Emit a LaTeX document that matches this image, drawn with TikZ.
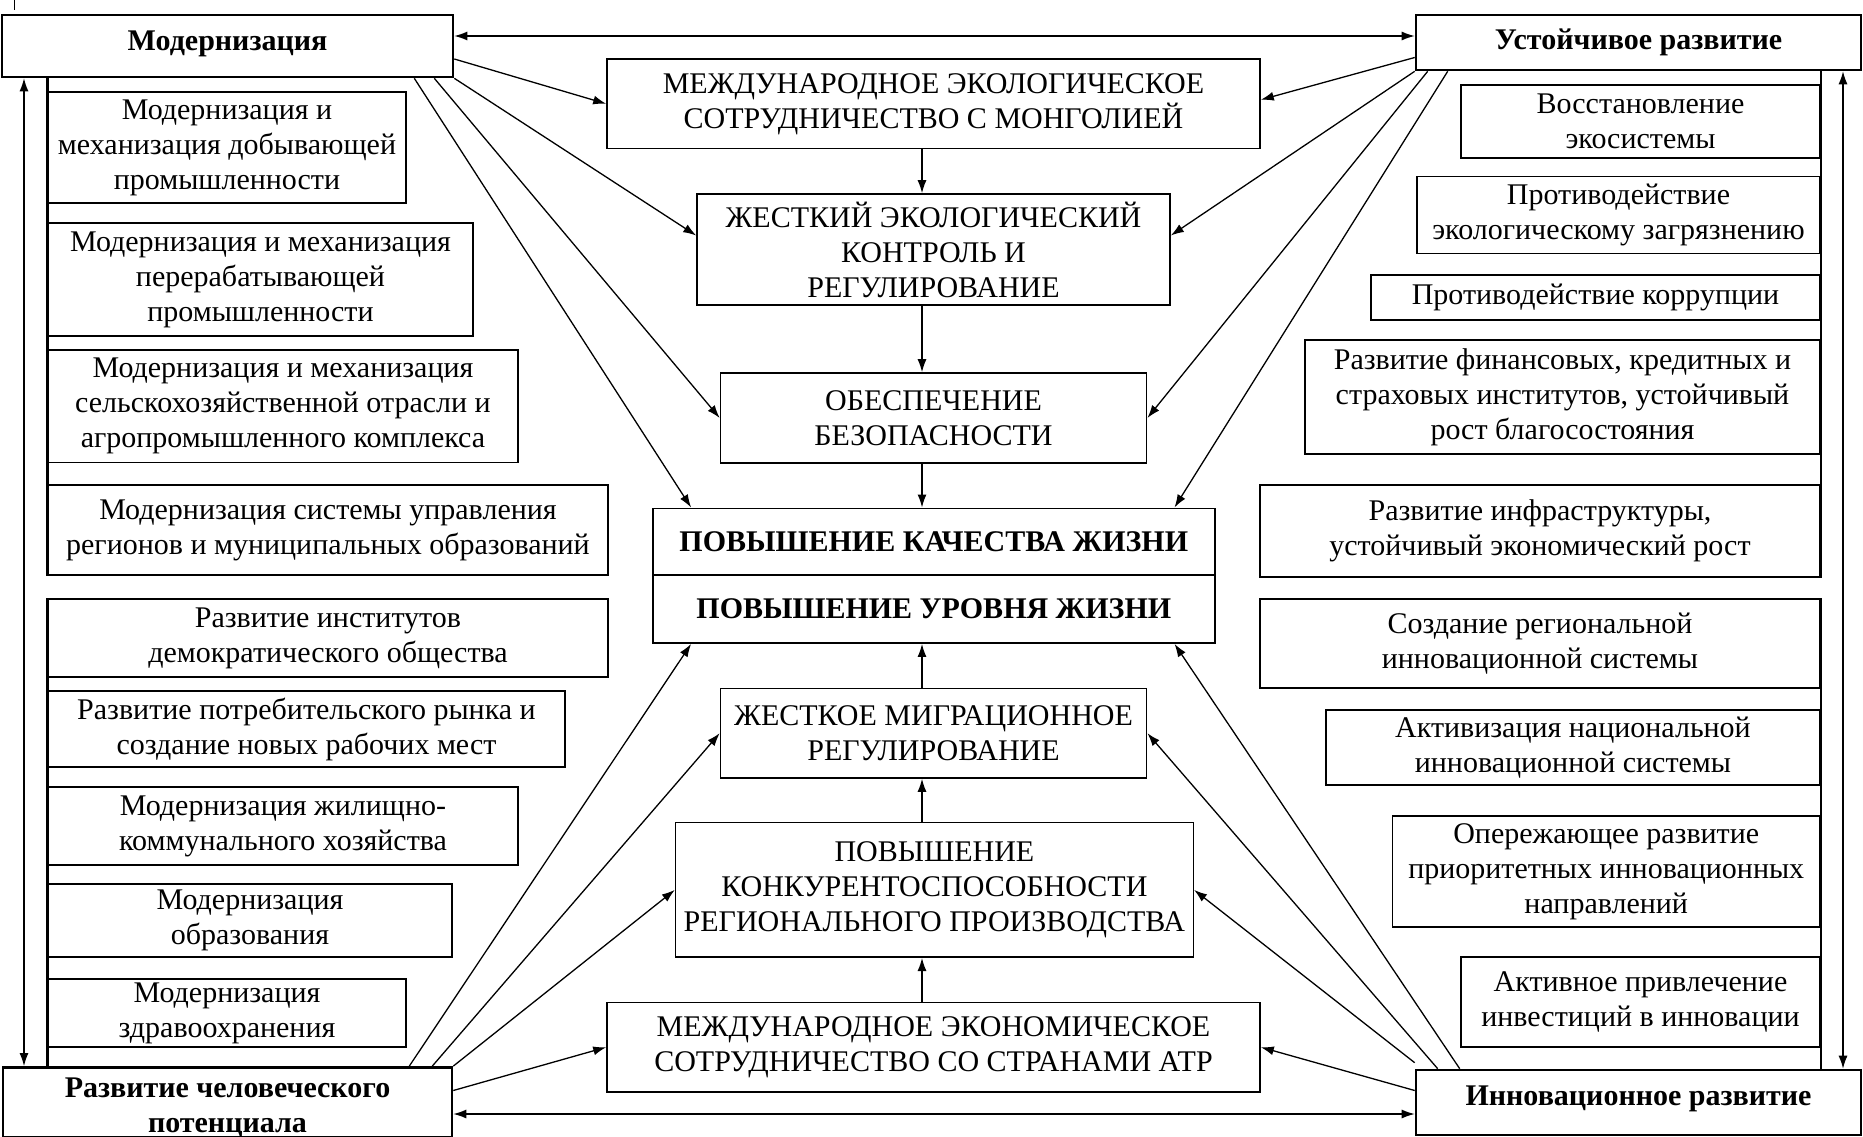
\documentclass[tikz,border=0pt]{standalone}
\usepackage{fontspec}
\setmainfont{Liberation Serif}
\usetikzlibrary{arrows.meta,calc}
\newcommand\fs{\fontsize{30}{35}\selectfont}
\tikzset{
  box/.style={draw, line width=1.6pt, inner sep=0pt, align=center, font=\fs},
  hbox/.style={draw, line width=2.6pt, inner sep=0pt, align=center, font=\fs\bfseries},
  bbox/.style={draw, line width=1.8pt, inner sep=0pt, align=center, font=\fs\bfseries},
  arr/.style={line width=1.3pt, -{Latex[length=13pt,width=9pt]}},
  dbl/.style={line width=1.3pt, {Latex[length=13pt,width=9pt]}-{Latex[length=13pt,width=9pt]}},
  bar/.style={line width=2.6pt}
}
\newcommand\bx[7][box]{\node[#1, minimum width={(#5-#3)*1pt}, minimum height={(#6-#4)*1pt}] (#2) at ({(#3+#5)/2},{(#4+#6)/2}) {#7};}
\begin{document}
\begin{tikzpicture}[x=1pt,y=-1pt]
\fill[white] (0,0) rectangle (1863,1137);
\useasboundingbox (0,0) rectangle (1863,1137);
\coordinate (tk1) at (14,0);
\coordinate (tk2) at (14,10);
\draw[line width=1pt] (tk1) -- (tk2);
% corner boxes
\bx[hbox]{mod}{2}{15}{453}{77}{\raisebox{10pt}{Модернизация}}
\bx[hbox]{ust}{1416}{15}{1861}{70}{\raisebox{5pt}{Устойчивое развитие}}
\bx[hbox]{hum}{3}{1070}{452}{1135}{\rule{0pt}{30pt}Развитие человеческого\\потенциала}
\bx[hbox]{inn}{1416}{1070}{1861}{1135}{\raisebox{13pt}{Инновационное развитие}}
% left boxes
\bx{L1}{48}{92}{406}{203}{Модернизация и\\механизация добывающей\\промышленности}
\bx{L2}{48}{223}{473}{336}{Модернизация и механизация\\перерабатывающей\\промышленности}
\bx{L3}{48}{350}{518}{462.5}{Модернизация и механизация\\сельскохозяйственной отрасли и\\агропромышленного комплекса}
\bx{L4}{48}{485}{608}{575}{Модернизация системы управления\\регионов и муниципальных образований}
\bx{L5}{48}{599}{608}{677}{Развитие институтов\\демократического общества}
\bx{L6}{48}{691}{565}{767}{Развитие потребительского рынка и\\создание новых рабочих мест}
\bx{L7}{48}{787}{518}{865}{Модернизация жилищно-\\коммунального хозяйства}
\bx{L8}{48}{884}{452}{957}{Модернизация\\образования}
\bx{L9}{48}{979}{406}{1047}{Модернизация\\здравоохранения}
% right boxes
\bx{R1}{1461}{85}{1820}{158}{Восстановление\\экосистемы}
\bx{R2}{1417}{176.5}{1820}{253.4}{Противодействие\\экологическому загрязнению}
\bx{R3}{1371}{275}{1820}{320}{Противодействие коррупции}
\bx{R4}{1305}{340}{1820}{454}{Развитие финансовых, кредитных и\\страховых институтов, устойчивый\\рост благосостояния}
\bx{R5}{1260}{485}{1820}{577}{Развитие инфраструктуры,\\устойчивый экономический рост}
\bx{R6}{1260}{599}{1820}{688}{Создание региональной\\инновационной системы}
\bx{R7}{1326}{710}{1820}{785}{Активизация национальной\\инновационной системы}
\bx{R8}{1392.5}{816}{1820}{927}{Опережающее развитие\\приоритетных инновационных\\направлений}
\bx{R9}{1461}{957}{1820}{1047}{Активное привлечение\\инвестиций в инновации}
% centre boxes
\bx{c1}{607}{59}{1260}{148.6}{МЕЖДУНАРОДНОЕ ЭКОЛОГИЧЕСКОЕ\\СОТРУДНИЧЕСТВО С МОНГОЛИЕЙ}
\bx{c2}{697}{194}{1170}{305}{ЖЕСТКИЙ ЭКОЛОГИЧЕСКИЙ\\КОНТРОЛЬ И\\РЕГУЛИРОВАНИЕ}
\bx{c3}{720.5}{373}{1146.6}{463}{ОБЕСПЕЧЕНИЕ\\БЕЗОПАСНОСТИ}
\bx[bbox]{c4a}{653}{508.4}{1214.6}{575}{ПОВЫШЕНИЕ КАЧЕСТВА ЖИЗНИ}
\bx[bbox]{c4b}{653}{575}{1214.6}{643}{ПОВЫШЕНИЕ УРОВНЯ ЖИЗНИ}
\bx{c5}{720.5}{688.4}{1146.6}{778}{ЖЕСТКОЕ МИГРАЦИОННОЕ\\РЕГУЛИРОВАНИЕ}
\bx{c6}{675.6}{822.6}{1193.3}{957.2}{ПОВЫШЕНИЕ\\КОНКУРЕНТОСПОСОБНОСТИ\\РЕГИОНАЛЬНОГО ПРОИЗВОДСТВА}
\bx{c7}{607}{1002.4}{1260}{1092}{МЕЖДУНАРОДНОЕ ЭКОНОМИЧЕСКОЕ\\СОТРУДНИЧЕСТВО СО СТРАНАМИ АТР}
% helper coordinates
\coordinate (lx) at (24,0);
\coordinate (rx) at (1843,0);
\coordinate (vx) at (922,0);
\coordinate (ty) at (0,36);
\coordinate (by) at (0,1114);
% bars
\draw[bar] (mod.south -| L1.west) -- (L4.south west);
\draw[bar] (L5.north west) -- (hum.north -| L5.west);
\draw[bar] (ust.south -| R1.east) -- (R5.south east);
\draw[bar] (R6.north east) -- (inn.north -| R6.east);
% side double arrows
\draw[dbl] (mod.south -| lx) -- (hum.north -| lx);
\draw[dbl] (ust.south -| rx) -- (inn.north -| rx);
\draw[dbl] (mod.east |- ty) -- (ust.west |- ty);
\draw[dbl] (hum.east |- by) -- (inn.west |- by);
% vertical chain
\draw[arr] (c1.south -| vx) -- (c2.north -| vx);
\draw[arr] (c2.south -| vx) -- (c3.north -| vx);
\draw[arr] (c3.south -| vx) -- (c4a.north -| vx);
\draw[arr] (c5.north -| vx) -- (c4b.south -| vx);
\draw[arr] (c6.north -| vx) -- (c5.south -| vx);
\draw[arr] (c7.north -| vx) -- (c6.south -| vx);
% from Модернизация
\draw[arr] ([yshift=-13pt]mod.east) -- (c1.west);
\draw[arr] (mod.south east) -- ([yshift=14pt]c2.west);
\draw[arr] ([xshift=-20pt]mod.south east) -- (c3.west);
\draw[arr] ([xshift=-40pt]mod.south east) -- ([xshift=39pt]c4a.north west);
% from Устойчивое развитие
\draw[arr] ([yshift=-15pt]ust.west) -- ([yshift=4pt]c1.east);
\draw[arr] (ust.south west) -- ([yshift=14pt]c2.east);
\draw[arr] ([xshift=13pt]ust.south west) -- (c3.east);
\draw[arr] ([xshift=33pt]ust.south west) -- ([xshift=-41pt]c4a.north east);
% from Развитие человеческого потенциала
\draw[arr] ([yshift=12pt]hum.east) -- (c7.west);
\draw[arr] (hum.north east) -- (c6.west);
\draw[arr] ([xshift=-21pt]hum.north east) -- (c5.west);
\draw[arr] ([xshift=-44pt]hum.north east) -- ([xshift=39pt]c4b.south west);
% from Инновационное развитие
\draw[arr] ([yshift=12pt]inn.west) -- (c7.east);
\draw[arr] ([yshift=6pt]inn.north west) -- (c6.east);
\draw[arr] ([xshift=23pt]inn.north west) -- (c5.east);
\draw[arr] ([xshift=45pt]inn.north west) -- ([xshift=-41pt]c4b.south east);
\end{tikzpicture}
\end{document}
